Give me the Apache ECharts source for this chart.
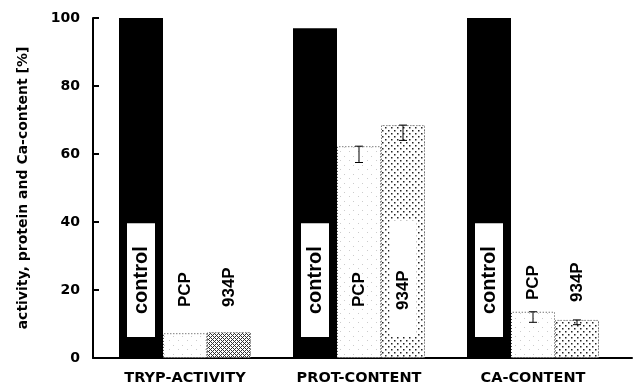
<!DOCTYPE html>
<html><head><meta charset="utf-8">
<script src="https://cdn.jsdelivr.net/npm/echarts@6/dist/echarts.min.js"></script>
<style>html,body{margin:0;padding:0;background:#fff}#c{width:636px;height:388px}</style>
</head><body><div id="c"></div>
<script>
// ---- data ----
const categories = ['TRYP-ACTIVITY', 'PROT-CONTENT', 'CA-CONTENT'];
const seriesNames = ['control', 'PCP', '934P'];
const controlValues = [100, 97, 100];
const pcpValues = [7.3, 62.3, 13.6];
const p934Values = [7.6, 68.5, 11.2];
const pcpErrLow = [null, 57.5, 10.5];
const pcpErrHigh = [null, 62.3, 13.6];
const p934ErrLow = [null, 64, 9.8];
const p934ErrHigh = [null, 68.5, 11.2];
const yTicks = [0, 20, 40, 60, 80, 100];
const yName = 'activity, protein and Ca-content [%]';

// ---- styles ----
const BAR_W = 44;
const rotFont = 'Liberation Sans';
const horFont = 'DejaVu Sans';

function dotPattern() {
  const c = document.createElement('canvas'); c.width = 6; c.height = 6;
  const g = c.getContext('2d');
  g.fillStyle = '#fff'; g.fillRect(0, 0, 6, 6);
  g.fillStyle = '#222'; g.fillRect(1, 1, 1.5, 1.5); g.fillRect(4, 4, 1.5, 1.5);
  return c;
}
function hatchPattern() {
  const c = document.createElement('canvas'); c.width = 4; c.height = 4;
  const g = c.getContext('2d');
  g.fillStyle = '#fff'; g.fillRect(0, 0, 4, 4);
  g.fillStyle = '#333';
  g.fillRect(3, 0, 1, 1); g.fillRect(2, 1, 1, 1); g.fillRect(1, 2, 1, 1); g.fillRect(0, 3, 1, 1);
  g.fillRect(1, 0, 1, 1); g.fillRect(3, 2, 1, 1);
  return c;
}
function sparsePattern() {
  const c = document.createElement('canvas'); c.width = 9; c.height = 9;
  const g = c.getContext('2d');
  g.fillStyle = '#fff'; g.fillRect(0, 0, 9, 9);
  g.fillStyle = '#ccc'; g.fillRect(2, 3, 1, 1); g.fillRect(7, 7, 1, 1);
  return c;
}
const dotFill = { image: dotPattern(), repeat: 'repeat' };
const hatchFill = { image: hatchPattern(), repeat: 'repeat' };
const sparseFill = { image: sparsePattern(), repeat: 'repeat' };

const baseLabel = {
  show: true, position: 'insideBottom', rotate: 90, align: 'left', verticalAlign: 'middle',
  fontFamily: rotFont, fontWeight: 'bold', color: '#000'
};

const controlData = controlValues.map(v => ({
  value: v,
  label: Object.assign({}, baseLabel, {
    formatter: 'control', fontSize: 20, distance: 21, backgroundColor: '#fff',
    padding: [0, 23, 0, 23], lineHeight: 28
  })
}));
const pcpDist = [51, 51, 58];
const pcpData = pcpValues.map((v, i) => ({
  value: v,
  label: Object.assign({}, baseLabel, { formatter: 'PCP', fontSize: 17, distance: pcpDist[i] })
}));
const p934Dist = [51, 21, 56];
const p934Data = p934Values.map((v, i) => {
  const lab = Object.assign({}, baseLabel, { formatter: '934P', fontSize: 17, distance: p934Dist[i] });
  if (i === 1) Object.assign(lab, { backgroundColor: '#fff', padding: [0, 50, 0, 27], lineHeight: 27 });
  return { value: v, itemStyle: { color: i === 0 ? hatchFill : dotFill }, label: lab };
});

const errData = [];
pcpErrLow.forEach((lo, i) => { if (lo != null) errData.push([i, lo, pcpErrHigh[i], 0]); });
p934ErrLow.forEach((lo, i) => { if (lo != null) errData.push([i, lo, p934ErrHigh[i], 1]); });

const chart = echarts.init(document.getElementById('c'), null, { renderer: 'canvas' });
chart.setOption({
  animation: false,
  backgroundColor: '#fff',
  grid: [
    { left: 93, right: 4, top: 18, bottom: 30 },
    { left: 98, right: 16, top: 18, bottom: 30 }
  ],
  xAxis: [
    { type: 'value', gridIndex: 0, min: 0, max: 1, axisLine: { show: true, lineStyle: { color: '#000', width: 2 } },
      axisTick: { show: false }, axisLabel: { show: false }, splitLine: { show: false } },
    { type: 'category', gridIndex: 1, data: categories, axisLine: { show: false }, axisTick: { show: false },
      axisLabel: { color: '#000', fontFamily: horFont, fontWeight: 'bold', fontSize: 14.5, margin: 13 } }
  ],
  yAxis: [
    { type: 'value', gridIndex: 0, min: yTicks[0], max: yTicks[yTicks.length - 1], interval: 20,
      name: yName, nameLocation: 'middle', nameGap: 63,
      nameTextStyle: { color: '#000', fontFamily: horFont, fontWeight: 'bold', fontSize: 14 },
      axisLine: { show: true, lineStyle: { color: '#000', width: 2 } },
      axisTick: { show: true, inside: true, length: 6, lineStyle: { color: '#000', width: 2 } },
      axisLabel: { color: '#000', fontFamily: horFont, fontWeight: 'bold', fontSize: 14, margin: 13 },
      splitLine: { show: false } },
    { type: 'value', gridIndex: 1, min: 0, max: 100, show: false }
  ],
  series: [
    { name: seriesNames[0], type: 'bar', xAxisIndex: 1, yAxisIndex: 1, barWidth: BAR_W, barGap: '0%',
      itemStyle: { color: '#000' }, data: controlData },
    { name: seriesNames[1], type: 'bar', xAxisIndex: 1, yAxisIndex: 1, barWidth: BAR_W, barGap: '0%',
      itemStyle: { color: sparseFill, borderColor: '#444', borderWidth: 1, borderType: [1, 2] }, data: pcpData },
    { name: seriesNames[2], type: 'bar', xAxisIndex: 1, yAxisIndex: 1, barWidth: BAR_W, barGap: '0%',
      itemStyle: { color: dotFill, borderColor: '#444', borderWidth: 1, borderType: [1, 2] }, data: p934Data },
    { type: 'custom', xAxisIndex: 1, yAxisIndex: 1, z: 10, data: errData,
      encode: { x: 0, y: [1, 2] },
      renderItem: function (params, api) {
        const ci = api.value(0);
        const lo = api.coord([ci, api.value(1)]);
        const hi = api.coord([ci, api.value(2)]);
        const x = lo[0] + api.value(3) * BAR_W;
        const st = { stroke: '#000', lineWidth: 1 };
        return { type: 'group', children: [
          { type: 'line', shape: { x1: x, y1: lo[1], x2: x, y2: hi[1] }, style: st },
          { type: 'line', shape: { x1: x - 4, y1: lo[1], x2: x + 4, y2: lo[1] }, style: st },
          { type: 'line', shape: { x1: x - 4, y1: hi[1], x2: x + 4, y2: hi[1] }, style: st }
        ] };
      }
    }
  ]
});
</script>
</body></html>
